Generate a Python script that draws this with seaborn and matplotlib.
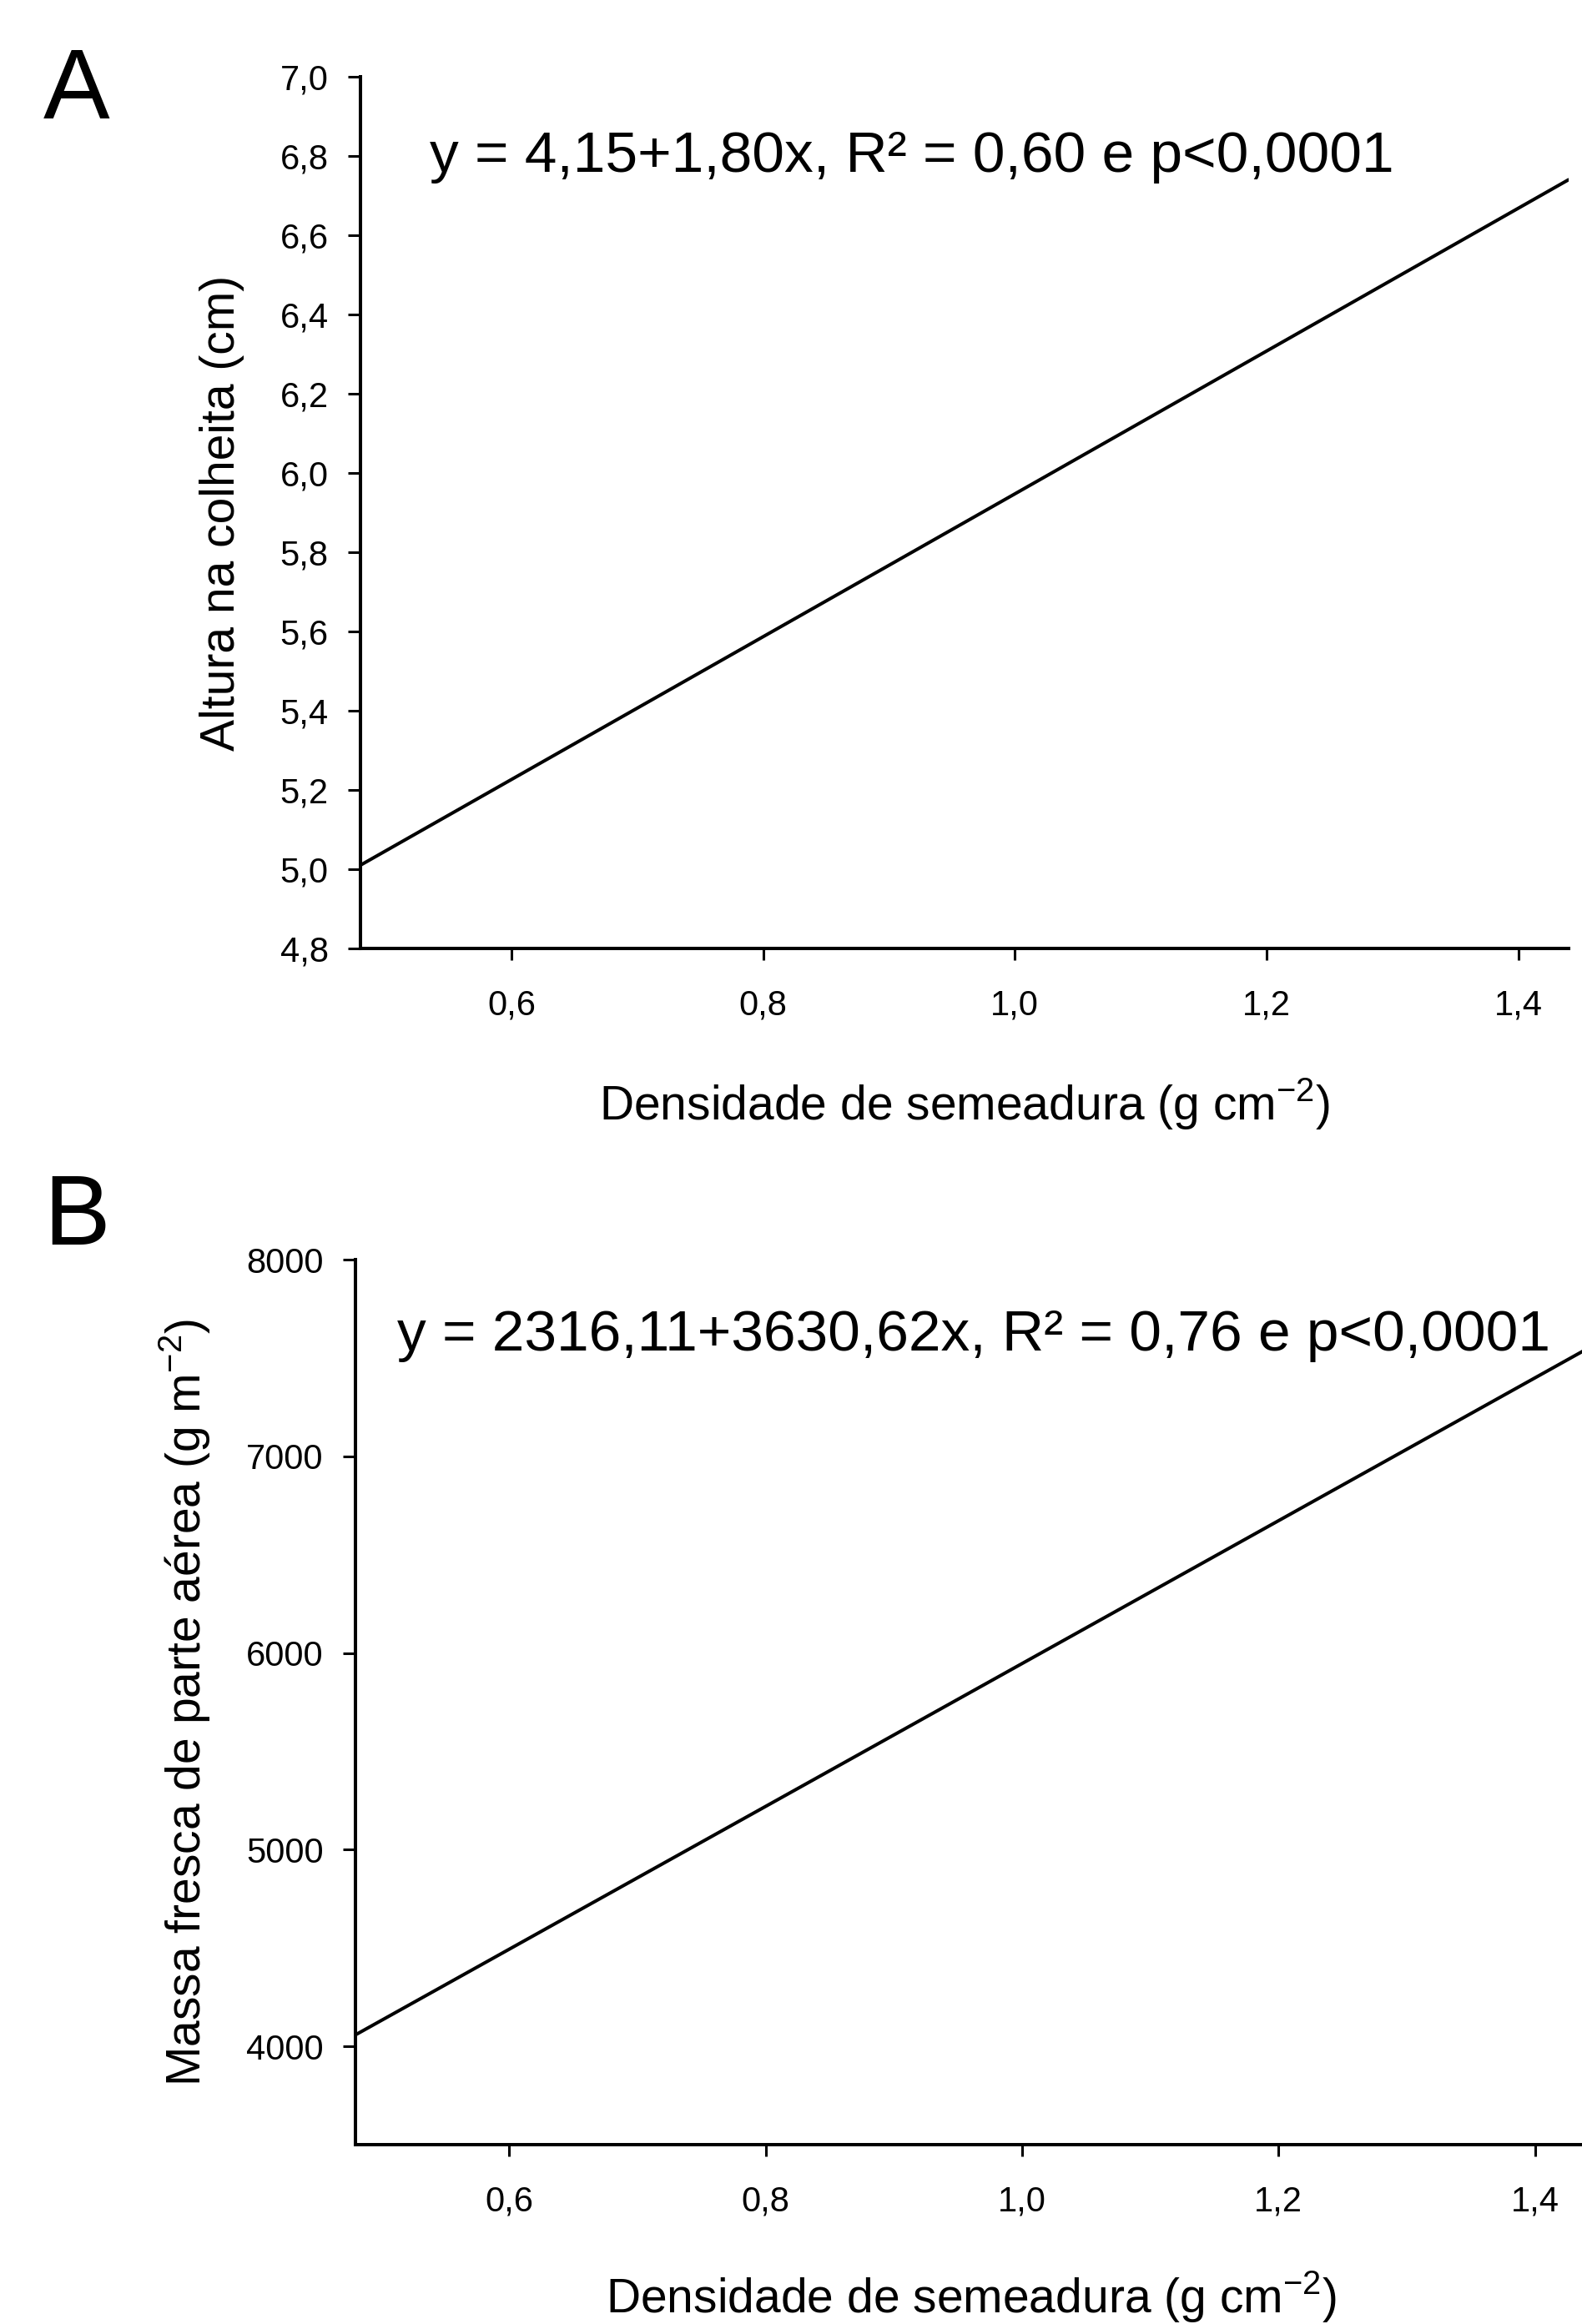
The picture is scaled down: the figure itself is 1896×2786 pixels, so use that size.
import matplotlib
matplotlib.use('Agg')
import matplotlib.pyplot as plt
import pandas as pd
import seaborn as sns
from matplotlib import font_manager

# Panel A - altura na colheita
dens_a = [0.48, 1.44]
altura = [5.01, 6.74]
eq_a = 'y = 4,15+1,80x, R² = 0,60 e p<0,0001'
yticks_a = [4.8, 5.0, 5.2, 5.4, 5.6, 5.8, 6.0, 6.2, 6.4, 6.6, 6.8, 7.0]
yticklabels_a = ['4,8', '5,0', '5,2', '5,4', '5,6', '5,8', '6,0', '6,2', '6,4', '6,6', '6,8', '7,0']

# Panel B - massa fresca
dens_b = [0.48, 1.44]
massa = [4058, 7544]
eq_b = 'y = 2316,11+3630,62x, R² = 0,76 e p<0,0001'
yticks_b = [4000, 5000, 6000, 7000, 8000]
yticklabels_b = ['4000', '5000', '6000', '7000', '8000']

xticks = [0.6, 0.8, 1.0, 1.2, 1.4]
xticklabels = ['0,6', '0,8', '1,0', '1,2', '1,4']

xlabel = r'Densidade de semeadura (g cm$^{\mathregular{-2}}$)'
ylabel_a = 'Altura na colheita (cm)'
ylabel_b = r'Massa fresca de parte aérea (g m$^{\mathregular{-2}}$)'


def pick_font(names, default):
    for n in names:
        try:
            font_manager.findfont(n, fallback_to_default=False)
            return n
        except ValueError:
            pass
    return default


sns.set_style('ticks')
plt.rcParams['font.family'] = ['Liberation Sans', 'DejaVu Sans']
plt.rcParams['mathtext.fontset'] = 'custom'
plt.rcParams['mathtext.rm'] = 'Liberation Sans'
plt.rcParams['text.color'] = 'black'
plt.rcParams['axes.labelcolor'] = 'black'

narrow = pick_font(['Liberation Sans Narrow', 'Arial Narrow'], None)
if narrow:
    eq_font, eq_size = [narrow, 'DejaVu Sans'], 60
else:
    eq_font, eq_size = ['Liberation Sans', 'DejaVu Sans'], 50

fig = plt.figure(figsize=(18.96, 27.86), dpi=100)
ax_a = fig.add_axes([0.2278, 0.5919, 0.7637, 0.3751])
ax_b = fig.add_axes([0.2247, 0.0772, 0.7780, 0.3808])

df_a = pd.DataFrame({'dens': dens_a, 'y': altura})
df_b = pd.DataFrame({'dens': dens_b, 'y': massa})

sns.lineplot(data=df_a, x='dens', y='y', ax=ax_a, color='black', linewidth=2.9)
sns.lineplot(data=df_b, x='dens', y='y', ax=ax_b, color='black', linewidth=2.9)

setup = [
    (ax_a, yticks_a, yticklabels_a, (4.8, 7.0), ylabel_a, -0.1146, -0.179, eq_a, 0.0573, 0.891),
    (ax_b, yticks_b, yticklabels_b, (3500, 8000), ylabel_b, -0.1383, -0.1725, eq_b, 0.034, 0.897),
]
for ax, yt, ytl, ylim, ylab, ylx, xly, eq, ex, ey in setup:
    ax.set_xlim(0.48, 1.44)
    ax.set_ylim(*ylim)
    ax.set_xticks(xticks)
    ax.set_xticklabels(xticklabels)
    ax.set_yticks(yt)
    ax.set_yticklabels(ytl)
    sns.despine(ax=ax)
    for s in ['left', 'bottom']:
        ax.spines[s].set_linewidth(2.9)
        ax.spines[s].set_color('black')
    ax.tick_params(axis='y', direction='out', length=11, width=2.2, pad=16.5,
                   labelsize=30, colors='black')
    ax.tick_params(axis='x', direction='out', length=10, width=2.2, pad=25,
                   labelsize=30, colors='black')
    ax.set_xlabel(xlabel, fontsize=41, va='center', color='black')
    ax.xaxis.set_label_coords(0.5, xly)
    ax.set_ylabel(ylab, fontsize=41, va='center', color='black')
    ax.yaxis.set_label_coords(ylx, 0.5)
    ax.text(ex, ey, eq, transform=ax.transAxes, family=eq_font, fontsize=eq_size,
            ha='left', va='baseline', color='black')

fig.text(0.0274, 0.949, 'A', fontsize=86, va='baseline', ha='left', color='black')
fig.text(0.0274, 0.4645, 'B', fontsize=86, va='baseline', ha='left', color='black')

plt.savefig('out.png', dpi=100)
